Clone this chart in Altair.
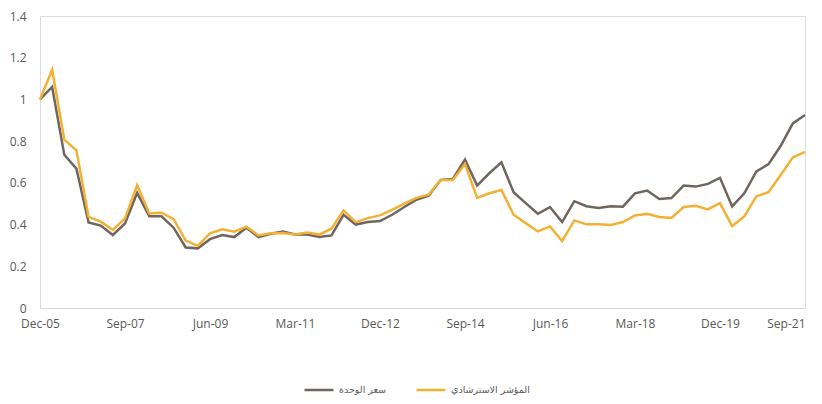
import altair as alt
import pandas as pd

quarters = []
months = ["Mar", "Jun", "Sep", "Dec"]
quarters.append("Dec-05")
for yr in range(6, 22):
    for m in months:
        quarters.append(f"{m}-{yr:02d}")
quarters = quarters[:64]

tick_labels = ["Dec-05", "Sep-07", "Jun-09", "Mar-11", "Dec-12",
               "Sep-14", "Jun-16", "Mar-18", "Dec-19", "Sep-21"]

series_names = ["سعر الوحدة", "المؤشر الاسترشادي"]

unit_price = [
    1.00, 1.06, 0.735, 0.668, 0.41, 0.395, 0.35, 0.405, 0.552, 0.44,
    0.44, 0.385, 0.29, 0.286, 0.33, 0.35, 0.34, 0.385, 0.34, 0.356,
    0.367, 0.352, 0.352, 0.34, 0.348, 0.447, 0.40, 0.412, 0.417, 0.447,
    0.484, 0.519, 0.539, 0.614, 0.619, 0.711, 0.587, 0.646, 0.698, 0.555,
    0.503, 0.452, 0.484, 0.412, 0.512, 0.488, 0.479, 0.488, 0.486, 0.55,
    0.563, 0.523, 0.527, 0.587, 0.582, 0.595, 0.624, 0.487, 0.55, 0.655,
    0.69, 0.778, 0.885, 0.925,
]
benchmark = [
    1.00, 1.142, 0.807, 0.756, 0.437, 0.414, 0.374, 0.43, 0.589, 0.453,
    0.457, 0.426, 0.323, 0.298, 0.358, 0.377, 0.366, 0.39, 0.348, 0.358,
    0.359, 0.352, 0.362, 0.352, 0.38, 0.468, 0.412, 0.431, 0.444, 0.471,
    0.50, 0.528, 0.543, 0.614, 0.614, 0.69, 0.528, 0.55, 0.566, 0.447,
    0.407, 0.367, 0.391, 0.321, 0.42, 0.401, 0.401, 0.398, 0.412, 0.444,
    0.452, 0.436, 0.432, 0.484, 0.49, 0.473, 0.503, 0.393, 0.439, 0.536,
    0.555, 0.638, 0.722, 0.749,
]

rows = []
for i, q in enumerate(quarters):
    rows.append({"q": q, "order": i, "series": series_names[0], "value": unit_price[i]})
    rows.append({"q": q, "order": i, "series": series_names[1], "value": benchmark[i]})
df = pd.DataFrame(rows)

last_label = tick_labels[-1]

chart = alt.Chart(df).mark_line(strokeWidth=2.5).encode(
    x=alt.X("q:O", sort=quarters, title=None,
            scale=alt.Scale(type="point", padding=0),
            axis=alt.Axis(values=tick_labels, labelAngle=0, ticks=False,
                          domainColor="#d9d9d9", domainWidth=1,
                          labelAlign={"condition": {"test": f"datum.value == '{last_label}'",
                                                    "value": "right"},
                                      "value": "center"},
                          labelPadding=10, labelFont="Open Sans",
                          labelFontSize=12, labelColor="#595959", grid=False)),
    y=alt.Y("value:Q", title=None,
            scale=alt.Scale(domain=[0, 1.4]),
            axis=alt.Axis(values=[0, 0.2, 0.4, 0.6, 0.8, 1.0, 1.2, 1.4],
                          format="~g",
                          domain=False, ticks=False, grid=False,
                          labelPadding=14, labelFont="Open Sans",
                          labelFontSize=12, labelColor="#595959")),
    color=alt.Color("series:N", title=None,
                    scale=alt.Scale(domain=series_names, range=["#6f665e", "#f2b132"]),
                    legend=alt.Legend(orient="none", legendX=263, legendY=358,
                                      direction="horizontal", symbolType="stroke",
                                      symbolSize=841, symbolStrokeWidth=2.5,
                                      labelFont="DejaVu Sans", labelFontSize=9.5,
                                      labelColor="#595959", columnPadding=24,
                                      labelOffset=4)),
    detail="series:N",
).properties(
    width=765, height=292,
    autosize=alt.AutoSizeParams(type="none"),
    padding={"left": 32, "top": 8, "right": 1, "bottom": 88},
).configure_view(stroke=None).configure(
    background="white"
)

chart.save("out.html", embed_options={"renderer": "svg", "actions": False})
